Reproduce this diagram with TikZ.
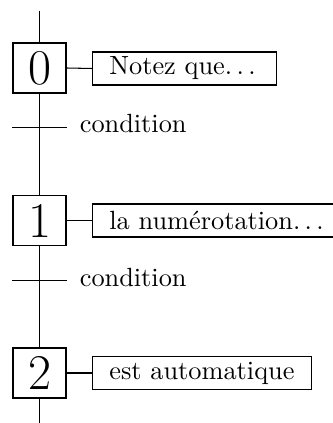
\documentclass[tikz,border=0pt]{standalone}
\newcommand{\myldots}{.\kern\fontdimen3\font.\kern\fontdimen3\font.\kern\fontdimen3\font}
\begin{document}
\begin{tikzpicture}[x=0.380pt,y=-0.380pt,
  stepbox/.style={draw, minimum width=20.14pt, minimum height=19pt, inner sep=0pt,
    font=\fontsize{19}{22}\selectfont},
  comment/.style={draw, anchor=west, minimum height=12.54pt, inner xsep=6.3pt, inner ysep=0pt},
  trans/.style={minimum width=20.14pt, minimum height=0pt, inner sep=0pt},
  cond/.style={anchor=base west, inner sep=0pt}]
\useasboundingbox (0,0) rectangle (332,423);
\coordinate (top) at (39.5,10.7);
\coordinate (bot) at (39.5,423);
\node[stepbox] (s0) at (39.5,68) {0};
\node[stepbox] (s1) at (39.5,220.5) {1};
\node[stepbox] (s2) at (39.5,373) {2};
\node[trans] (t1) at (39.5,127.3) {};
\node[trans] (t2) at (39.5,280.7) {};
\node[cond] (l1) at (79.3,132.8) {condition};
\node[cond] (l2) at (79.3,286.2) {condition};
\node[comment] (c0) at (92.3,68.5) {Notez que\myldots};
\node[comment] (c1) at (92.3,220.5) {la numérotation\myldots};
\node[comment] (c2) at (92.3,373) {est automatique};
\draw (top) -- (s0.north);
\draw (s0.south) -- (s1.north);
\draw (s1.south) -- (s2.north);
\draw (s2.south) -- (bot);
\draw (t1.west) -- (t1.east);
\draw (t2.west) -- (t2.east);
\draw (s0.east) -- (c0.west);
\draw (s1.east) -- (c1.west);
\draw (s2.east) -- (c2.west);
\end{tikzpicture}
\end{document}
